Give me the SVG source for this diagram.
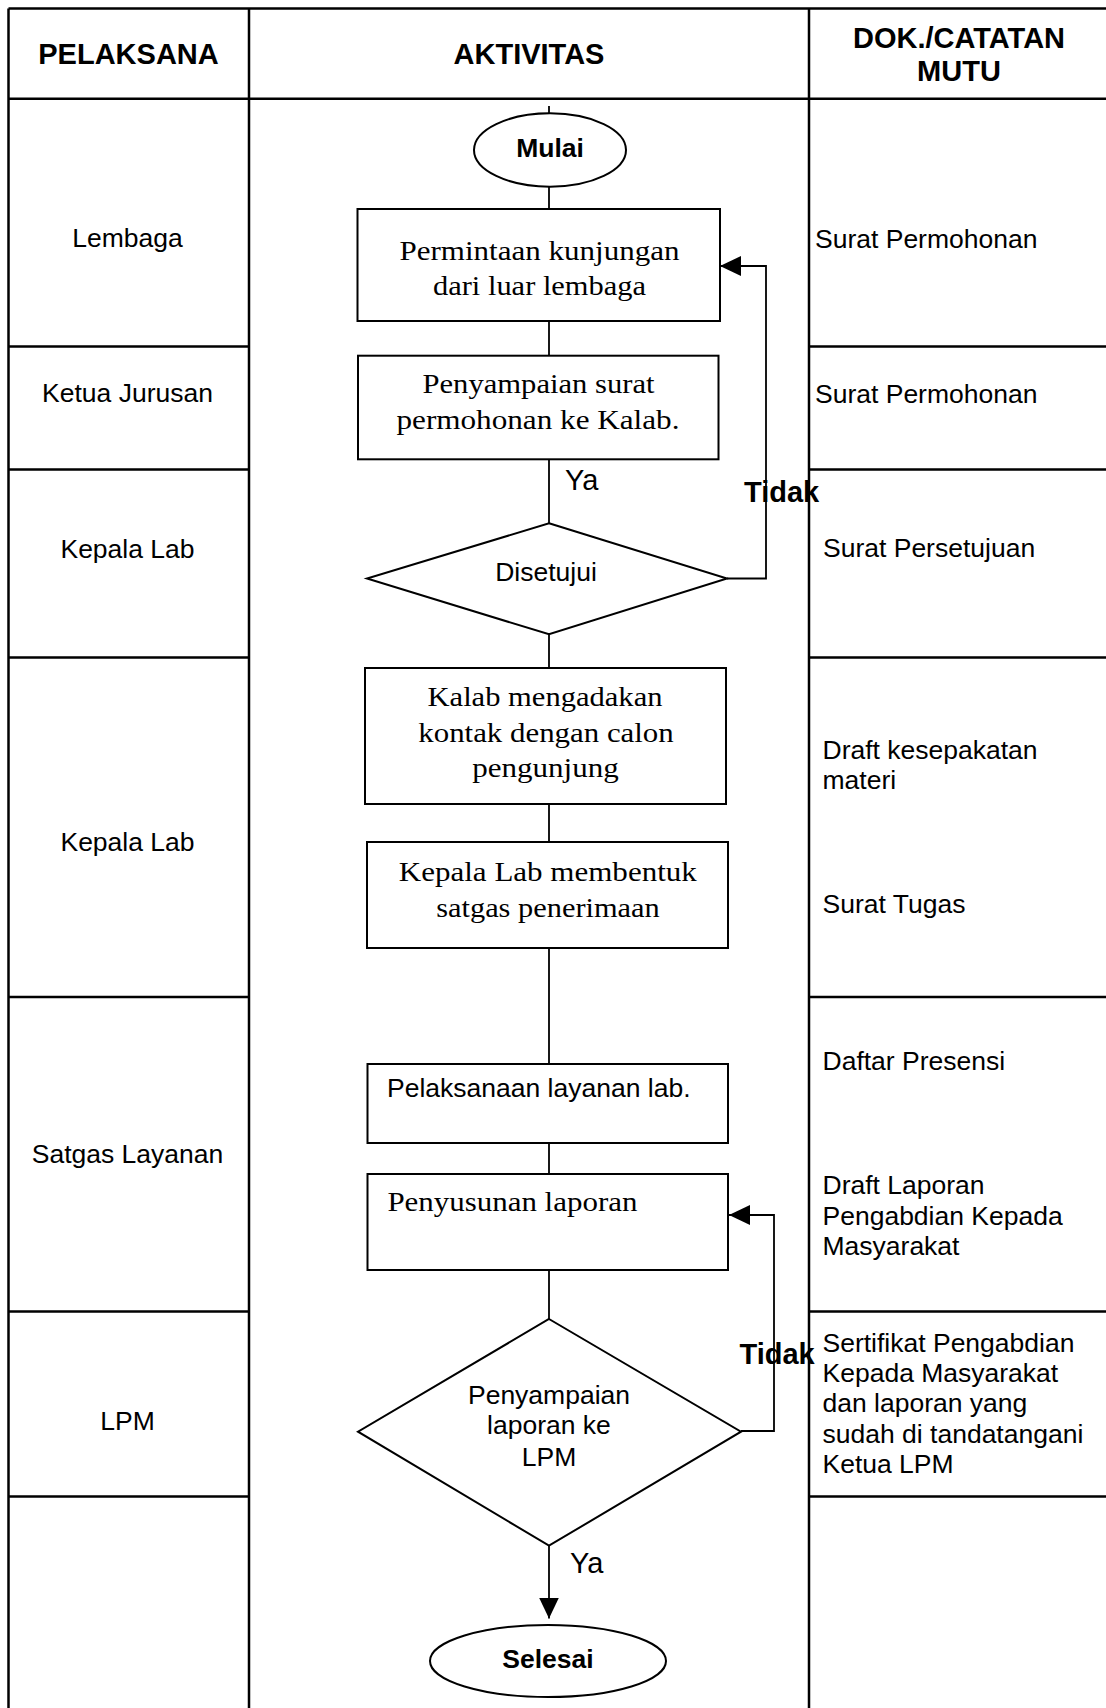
<svg xmlns="http://www.w3.org/2000/svg" width="1106" height="1708" viewBox="0 0 1106 1708">
<style>
.grid{stroke:#000;stroke-width:2.5;fill:none}
.box{fill:#fff;stroke:#000;stroke-width:2}
.con{fill:none;stroke:#000;stroke-width:1.8}
.sans{font-family:"Liberation Sans",Arial,sans-serif;font-size:26.5px;fill:#000}
.hdr{font-family:"Liberation Sans",Arial,sans-serif;font-size:29px;font-weight:bold;fill:#000;text-anchor:middle}
.lbl{font-family:"Liberation Sans",Arial,sans-serif;font-size:29px;fill:#000}
.bold{font-weight:bold}
.serif{font-family:"Liberation Serif","Times New Roman",serif;font-size:28px;fill:#000;text-anchor:middle}
.serif.start{text-anchor:start}
.mid{text-anchor:middle}
</style>
<defs>
<marker id="arr" markerUnits="userSpaceOnUse" markerWidth="22" markerHeight="20" refX="21" refY="10" orient="auto">
<path d="M0,0 L21,10 L0,20 z" fill="#000"/>
</marker>
</defs>
<rect width="1106" height="1708" fill="#fff"/>
<g id="table">
<line class="grid" x1="8.5" y1="8.5" x2="1106" y2="8.5"/>
<line class="grid" x1="8.5" y1="98.7" x2="1106" y2="98.7"/>
<line class="grid" x1="8.5" y1="8.5" x2="8.5" y2="1708"/>
<line class="grid" x1="249" y1="8.5" x2="249" y2="1708"/>
<line class="grid" x1="809" y1="8.5" x2="809" y2="1708"/>
<path class="grid" d="M8.5,346.5H249M809,346.5H1106M8.5,469.5H249M809,469.5H1106M8.5,657.5H249M809,657.5H1106M8.5,997H249M809,997H1106M8.5,1311.5H249M809,1311.5H1106M8.5,1496.5H249M809,1496.5H1106"/>
<text class="hdr" x="128.5" y="63.5">PELAKSANA</text>
<text class="hdr" x="529" y="63.5">AKTIVITAS</text>
<text class="hdr" x="959" y="48">DOK./CATATAN</text>
<text class="hdr" x="959" y="81">MUTU</text>
</g>
<g id="pelaksana">
<text class="sans mid" x="127.5" y="247">Lembaga</text>
<text class="sans mid" x="127.5" y="402">Ketua Jurusan</text>
<text class="sans mid" x="127.5" y="557.5">Kepala Lab</text>
<text class="sans mid" x="127.5" y="851">Kepala Lab</text>
<text class="sans mid" x="127.5" y="1163">Satgas Layanan</text>
<text class="sans mid" x="127.5" y="1430">LPM</text>
</g>
<g id="dokumen">
<text class="sans" x="815" y="248">Surat Permohonan</text>
<text class="sans" x="815" y="402.5">Surat Permohonan</text>
<text class="sans" x="823" y="557">Surat Persetujuan</text>
<text class="sans" x="822.5" y="759">Draft kesepakatan</text>
<text class="sans" x="822.5" y="789">materi</text>
<text class="sans" x="822.5" y="913">Surat Tugas</text>
<text class="sans" x="822.5" y="1070">Daftar Presensi</text>
<text class="sans" x="822.5" y="1194">Draft Laporan</text>
<text class="sans" x="822.5" y="1224.5">Pengabdian Kepada</text>
<text class="sans" x="822.5" y="1254.5">Masyarakat</text>
<text class="sans" x="822.5" y="1352">Sertifikat Pengabdian</text>
<text class="sans" x="822.5" y="1382">Kepada Masyarakat</text>
<text class="sans" x="822.5" y="1412">dan laporan yang</text>
<text class="sans" x="822.5" y="1442.5">sudah di tandatangani</text>
<text class="sans" x="822.5" y="1473">Ketua LPM</text>
</g>
<g id="connectors">
<path class="con" d="M549,106V113.3"/>
<path class="con" d="M549,186.7V209"/>
<path class="con" d="M549,321V355.7"/>
<path class="con" d="M549,459.3V523.3"/>
<path class="con" d="M549,634.3V668"/>
<path class="con" d="M549,804V842"/>
<path class="con" d="M549,948V1064"/>
<path class="con" d="M549,1143V1174"/>
<path class="con" d="M549,1270V1319"/>
<path class="con" d="M727,578.5H766V266H720" marker-end="url(#arr)"/>
<path class="con" d="M741,1431H774V1215H729" marker-end="url(#arr)"/>
<path class="con" d="M549,1545.7V1618.5" marker-end="url(#arr)"/>
<text class="lbl" x="565" y="490">Ya</text>
<text class="lbl bold" x="744" y="501.5">Tidak</text>
<text class="lbl bold" x="739.5" y="1364">Tidak</text>
<text class="lbl" x="570" y="1572.5">Ya</text>
</g>
<g id="mulai">
<ellipse class="box" cx="550" cy="150" rx="76" ry="36.7"/>
<text class="sans bold mid" x="550" y="156.7">Mulai</text>
</g>
<g id="permintaan">
<rect class="box" x="357.5" y="209" width="362.5" height="112"/>
<text class="serif" x="539.5" y="260" textLength="280" lengthAdjust="spacingAndGlyphs">Permintaan kunjungan</text>
<text class="serif" x="539.5" y="295" textLength="213" lengthAdjust="spacingAndGlyphs">dari luar lembaga</text>
</g>
<g id="penyampaian-surat">
<rect class="box" x="358" y="355.7" width="360.5" height="103.6"/>
<text class="serif" x="538.5" y="393.3" textLength="232" lengthAdjust="spacingAndGlyphs">Penyampaian surat</text>
<text class="serif" x="538" y="429" textLength="283" lengthAdjust="spacingAndGlyphs">permohonan ke Kalab.</text>
</g>
<g id="disetujui">
<polygon class="box" points="549,523.3 727,578.5 549,634.3 367,578.5"/>
<text class="sans mid" x="546" y="580.5">Disetujui</text>
</g>
<g id="kontak">
<rect class="box" x="365" y="668" width="361" height="136"/>
<text class="serif" x="545" y="706" textLength="235" lengthAdjust="spacingAndGlyphs">Kalab mengadakan</text>
<text class="serif" x="546" y="741.7" textLength="255.5" lengthAdjust="spacingAndGlyphs">kontak dengan calon</text>
<text class="serif" x="545.5" y="776.7" textLength="146.5" lengthAdjust="spacingAndGlyphs">pengunjung</text>
</g>
<g id="satgas">
<rect class="box" x="367" y="842" width="361" height="106"/>
<text class="serif" x="547.8" y="880.7" textLength="298" lengthAdjust="spacingAndGlyphs">Kepala Lab membentuk</text>
<text class="serif" x="548" y="916.7" textLength="223.6" lengthAdjust="spacingAndGlyphs">satgas penerimaan</text>
</g>
<g id="pelaksanaan">
<rect class="box" x="367.5" y="1064" width="360.5" height="79"/>
<text class="sans" x="387" y="1097">Pelaksanaan layanan lab.</text>
</g>
<g id="penyusunan">
<rect class="box" x="367.5" y="1174" width="360.5" height="96"/>
<text class="serif start" x="387.4" y="1211" textLength="250" lengthAdjust="spacingAndGlyphs">Penyusunan laporan</text>
</g>
<g id="penyampaian-laporan">
<polygon class="box" points="549,1319 741,1431.7 549,1545.7 358,1431.7"/>
<text class="sans mid" x="549" y="1404">Penyampaian</text>
<text class="sans mid" x="549" y="1434.3">laporan ke</text>
<text class="sans mid" x="549" y="1465.7">LPM</text>
</g>
<g id="selesai">
<ellipse class="box" cx="548" cy="1661" rx="118" ry="36"/>
<text class="sans bold mid" x="548" y="1668.3">Selesai</text>
</g>
</svg>
